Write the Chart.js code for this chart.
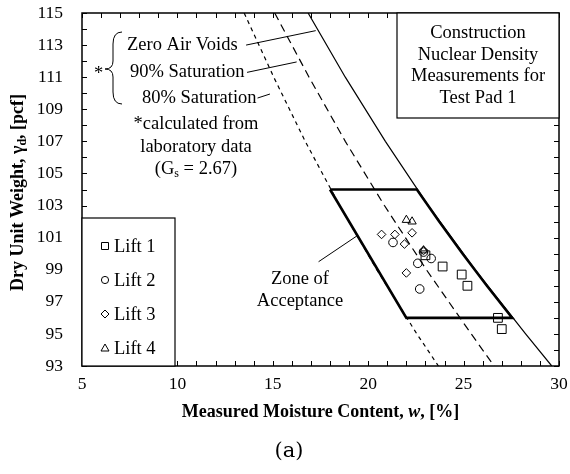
<!DOCTYPE html>
<html>
<head>
<meta charset="utf-8">
<script src="https://cdn.jsdelivr.net/npm/chart.js@4.4.1/dist/chart.umd.min.js"></script>
<style>
  html, body { margin: 0; padding: 0; background: #fff; }
  #wrap { width: 570px; height: 474px; }
</style>
</head>
<body>
<div id="wrap"><canvas id="chart" width="570" height="474"></canvas></div>
<script>
// axis ranges
const moistureRange = [5, 30];
const weightRange = [93, 115];

// saturation curves, shared dry unit weights
const curveWeight = [115, 111, 107, 103, 99, 95, 93];
const zavMoisture = [16.85, 18.8, 20.9, 23.15, 25.6, 28.25, 29.62];
const sat90Moisture = [15.1, 16.9, 18.8, 20.85, 23.05, 25.4, 26.6];
const sat80Moisture = [13.5, 15.05, 16.7, 18.5, 20.45, 22.55, 23.68];

// zone of acceptance outline
const zoneMoisture = [18.0, 22.55, 23.72, 24.95, 26.22, 27.55, 22.0, 18.0];
const zoneWeight = [104, 104, 102, 100, 98, 96, 96, 104];

// nuclear density measurements
const lift1Moisture = [23.0, 23.9, 24.9, 25.2, 26.8, 27.0];
const lift1Weight = [99.9, 99.2, 98.7, 98.0, 96.0, 95.3];
const lift2Moisture = [21.3, 22.9, 23.3, 22.6, 22.7];
const lift2Weight = [100.7, 100.1, 99.7, 99.4, 97.8];
const lift3Moisture = [20.7, 21.4, 22.3, 21.9, 22.9, 22.0];
const lift3Weight = [101.2, 101.2, 101.3, 100.6, 100.2, 98.8];
const lift4Moisture = [22.0, 22.3, 22.9];
const lift4Weight = [102.1, 102.0, 100.2];

// leader lines from the labels to the curves
const zavLeaderMoisture = [13.6, 17.25];
const zavLeaderWeight = [113.0, 113.9];
const sat90LeaderMoisture = [13.65, 16.25];
const sat90LeaderWeight = [111.3, 111.95];
const sat80LeaderMoisture = [14.2, 14.85];
const sat80LeaderWeight = [109.7, 109.95];
const zoneLeaderMoisture = [17.4, 19.4];
const zoneLeaderWeight = [99.5, 101.1];

const legendLabels = ["Lift 1", "Lift 2", "Lift 3", "Lift 4"];

const SERIF = "'Liberation Serif', 'Times New Roman', serif";

const toPoints = (xs, ys) => xs.map((x, i) => ({ x, y: ys[i] }));

const lineSet = (xs, ys, extra) => Object.assign({
  data: toPoints(xs, ys),
  showLine: true,
  borderColor: "#000",
  borderWidth: 1.2,
  pointRadius: 0,
  pointHoverRadius: 0,
  fill: false,
}, extra);

const markerSet = (label, xs, ys, style, radius) => ({
  label,
  data: toPoints(xs, ys),
  showLine: false,
  pointStyle: style,
  pointRadius: radius,
  pointBorderColor: "#000",
  pointBackgroundColor: "rgba(0,0,0,0)",
  pointBorderWidth: 1,
});

// draws the frame, inside tick marks, notes, legend box and axis titles
const decorations = {
  id: "decorations",
  afterDatasetsDraw(chart) {
    const { ctx, chartArea: a, scales: { x, y } } = chart;
    const F = "18.5px " + SERIF;
    ctx.save();
    ctx.strokeStyle = "#000";
    ctx.fillStyle = "#000";

    // inside ticks
    ctx.lineWidth = 1;
    ctx.beginPath();
    x.ticks.forEach((t) => {
      const px = Math.round(x.getPixelForValue(t.value)) + 0.5;
      ctx.moveTo(px, a.bottom); ctx.lineTo(px, a.bottom - 5);
      ctx.moveTo(px, a.top); ctx.lineTo(px, a.top + 5);
    });
    y.ticks.forEach((t) => {
      const py = Math.round(y.getPixelForValue(t.value)) + 0.5;
      ctx.moveTo(a.left, py); ctx.lineTo(a.left + 5, py);
      ctx.moveTo(a.right, py); ctx.lineTo(a.right - 5, py);
    });
    ctx.stroke();

    // frame
    ctx.lineWidth = 1.5;
    ctx.strokeRect(a.left, a.top, a.right - a.left, a.bottom - a.top);

    // legend box
    const lx = a.left, ly = a.bottom - 148, lw = 93, lh = 148;
    ctx.fillStyle = "#fff";
    ctx.fillRect(lx, ly, lw, lh);
    ctx.fillStyle = "#000";
    ctx.lineWidth = 1.2;
    ctx.strokeRect(lx, ly, lw, lh);
    ctx.font = F;
    ctx.textBaseline = "middle";
    ctx.textAlign = "left";
    const styles = ["rect", "circle", "rectRot", "triangle"];
    legendLabels.forEach((label, i) => {
      const cy = ly + 28 + i * 34;
      const cx = lx + 23;
      ctx.lineWidth = 1;
      ctx.beginPath();
      if (styles[i] === "rect") ctx.rect(cx - 3.5, cy - 3.5, 7, 7);
      if (styles[i] === "circle") ctx.arc(cx, cy, 3.6, 0, Math.PI * 2);
      if (styles[i] === "rectRot") {
        ctx.moveTo(cx - 4, cy); ctx.lineTo(cx, cy - 4); ctx.lineTo(cx + 4, cy); ctx.lineTo(cx, cy + 4); ctx.closePath();
      }
      if (styles[i] === "triangle") {
        ctx.moveTo(cx - 4, cy + 3); ctx.lineTo(cx, cy - 4); ctx.lineTo(cx + 4, cy + 3); ctx.closePath();
      }
      ctx.stroke();
      ctx.fillText(label, cx + 9, cy + 1);
    });

    // title box, upper right
    const bx = 397, by = a.top, bw = a.right - 397, bh = 105;
    ctx.fillStyle = "#fff";
    ctx.fillRect(bx, by, bw, bh);
    ctx.fillStyle = "#000";
    ctx.lineWidth = 1.2;
    ctx.strokeRect(bx, by, bw, bh);
    ctx.textAlign = "center";
    ["Construction", "Nuclear Density", "Measurements for", "Test Pad 1"].forEach((s, i) => {
      ctx.fillText(s, bx + bw / 2, by + 20 + i * 21.7);
    });

    // curve labels
    ctx.textAlign = "left";
    ctx.fillText("Zero Air Voids", 127, 45);
    ctx.fillText("90% Saturation", 130, 72);
    ctx.fillText("80% Saturation", 142, 98);
    ctx.fillText("*", 94, 74);

    // brace
    ctx.lineWidth = 1;
    ctx.beginPath();
    ctx.moveTo(122, 32);
    ctx.quadraticCurveTo(113, 32, 113, 44);
    ctx.lineTo(113, 61);
    ctx.quadraticCurveTo(113, 69, 105, 69);
    ctx.quadraticCurveTo(113, 69, 113, 77);
    ctx.lineTo(113, 92);
    ctx.quadraticCurveTo(113, 104, 122, 104);
    ctx.stroke();

    ctx.textAlign = "center";
    ctx.fillText("*calculated from", 196, 124);
    ctx.fillText("laboratory data", 196, 147);
    // (Gs = 2.67) with subscript
    const p1 = "(G", p2 = "s", p3 = " = 2.67)";
    const w1 = ctx.measureText(p1).width, w3 = ctx.measureText(p3).width;
    ctx.font = "12px " + SERIF;
    const w2 = ctx.measureText(p2).width;
    const sx = 196 - (w1 + w2 + w3) / 2;
    ctx.textAlign = "left";
    ctx.font = F;
    ctx.fillText(p1, sx, 169);
    ctx.font = "12px " + SERIF;
    ctx.fillText(p2, sx + w1, 174);
    ctx.font = F;
    ctx.fillText(p3, sx + w1 + w2, 169);

    ctx.textAlign = "center";
    ctx.fillText("Zone of", 300, 279);
    ctx.fillText("Acceptance", 300, 301);

    // x axis title with italic w
    const B = "bold 18px " + SERIF, BI = "italic bold 18px " + SERIF;
    const xa = "Measured Moisture Content, ", xb = "w", xc = ", [%]";
    ctx.font = B;
    const wa = ctx.measureText(xa).width, wc = ctx.measureText(xc).width;
    ctx.font = BI;
    const wb = ctx.measureText(xb).width;
    const tx = (a.left + a.right) / 2 - (wa + wb + wc) / 2;
    ctx.textAlign = "left";
    ctx.font = B;
    ctx.fillText(xa, tx, 412);
    ctx.font = BI;
    ctx.fillText(xb, tx + wa, 412);
    ctx.font = B;
    ctx.fillText(xc, tx + wa + wb, 412);

    // y axis title with subscript d
    ctx.save();
    ctx.translate(18, (a.top + a.bottom) / 2 + 3);
    ctx.rotate(-Math.PI / 2);
    const ya = "Dry Unit Weight, \u03b3", yb = "d", yc = ", [pcf]";
    ctx.font = B;
    const va = ctx.measureText(ya).width, vc = ctx.measureText(yc).width;
    ctx.font = "bold 12px " + SERIF;
    const vb = ctx.measureText(yb).width;
    const ty = -(va + vb + vc) / 2;
    ctx.font = B;
    ctx.fillText(ya, ty, 0);
    ctx.font = "bold 12px " + SERIF;
    ctx.fillText(yb, ty + va, 5);
    ctx.font = B;
    ctx.fillText(yc, ty + va + vb, 0);
    ctx.restore();

    // panel label
    ctx.textAlign = "center";
    ctx.font = "21px 'DejaVu Serif', serif";
    ctx.fillText("(a)", 289, 452);

    ctx.restore();
  },
};

new Chart(document.getElementById("chart"), {
  type: "scatter",
  data: {
    datasets: [
      lineSet(zavMoisture, curveWeight, {}),
      lineSet(sat90Moisture, curveWeight, { borderDash: [8, 5] }),
      lineSet(sat80Moisture, curveWeight, { borderDash: [4, 4] }),
      lineSet(zoneMoisture, zoneWeight, { borderWidth: 2.6 }),
      lineSet(zavLeaderMoisture, zavLeaderWeight, { borderWidth: 1 }),
      lineSet(sat90LeaderMoisture, sat90LeaderWeight, { borderWidth: 1 }),
      lineSet(sat80LeaderMoisture, sat80LeaderWeight, { borderWidth: 1 }),
      lineSet(zoneLeaderMoisture, zoneLeaderWeight, { borderWidth: 1 }),
      markerSet("Lift 1", lift1Moisture, lift1Weight, "rect", 6.2),
      markerSet("Lift 2", lift2Moisture, lift2Weight, "circle", 4.3),
      markerSet("Lift 3", lift3Moisture, lift3Weight, "rectRot", 4.3),
      markerSet("Lift 4", lift4Moisture, lift4Weight, "triangle", 4.8),
    ],
  },
  options: {
    responsive: false,
    animation: false,
    layout: { padding: { top: 13, right: 11, left: 0, bottom: 0 }, autoPadding: false },
    plugins: { legend: { display: false }, tooltip: { enabled: false } },
    scales: {
      x: {
        type: "linear",
        min: moistureRange[0],
        max: moistureRange[1],
        grid: { display: false, drawTicks: false },
        border: { display: false },
        ticks: {
          stepSize: 1,
          autoSkip: false,
          maxRotation: 0,
          padding: 8,
          color: "#000",
          font: { family: SERIF, size: 17.5 },
          callback: (v) => (v % 5 === 0 ? v : ""),
        },
        afterFit: (s) => { s.height = 108; s.paddingLeft = 0; s.paddingRight = 0; },
      },
      y: {
        type: "linear",
        min: weightRange[0],
        max: weightRange[1],
        grid: { display: false, drawTicks: false },
        border: { display: false },
        ticks: {
          stepSize: 1,
          autoSkip: false,
          padding: 19,
          color: "#000",
          font: { family: SERIF, size: 17.5 },
          callback: (v) => (v % 2 === 1 ? v : ""),
        },
        afterFit: (s) => { s.width = 82; s.paddingTop = 0; s.paddingBottom = 0; },
      },
    },
  },
  plugins: [decorations],
});
</script>
</body>
</html>
